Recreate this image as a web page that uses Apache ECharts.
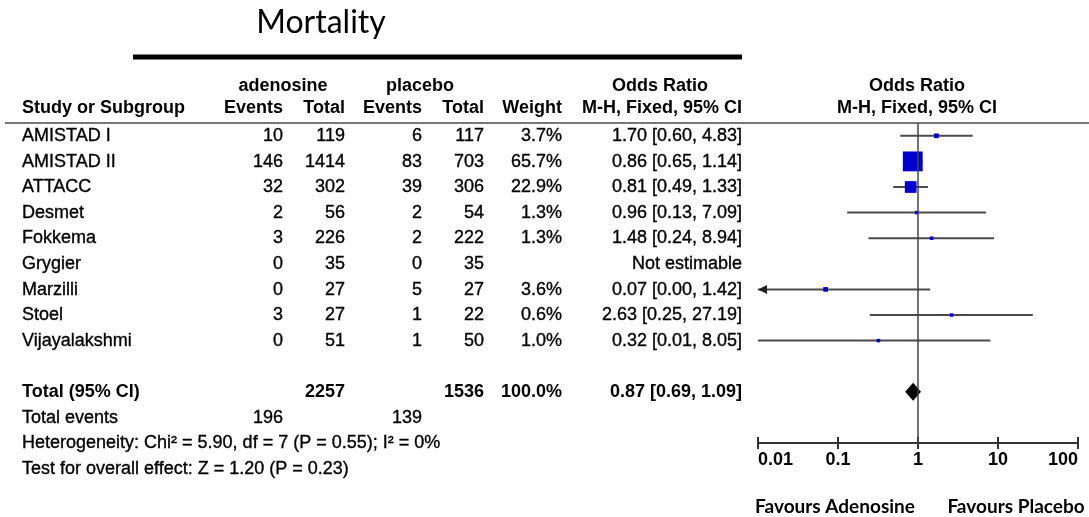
<!DOCTYPE html>
<html><head><meta charset="utf-8">
<script src="https://cdn.jsdelivr.net/npm/echarts/dist/echarts.min.js"></script>
<style>html,body{margin:0;padding:0;background:#fff}#c{width:1089px;height:517px}</style>
</head><body><div id="c"></div>
<script>
// ---- data ----
const studies = ['AMISTAD I','AMISTAD II','ATTACC','Desmet','Fokkema','Grygier','Marzilli','Stoel','Vijayalakshmi'];
const adenEvents = [10,146,32,2,3,0,0,3,0];
const adenTotal = [119,1414,302,56,226,35,27,27,51];
const placEvents = [6,83,39,2,2,0,5,1,1];
const placTotal = [117,703,306,54,222,35,27,22,50];
const weights = [3.7,65.7,22.9,1.3,1.3,null,3.6,0.6,1.0];
const orVal = [1.70,0.86,0.81,0.96,1.48,null,0.07,2.63,0.32];
const orLo  = [0.60,0.65,0.49,0.13,0.24,null,0.00,0.25,0.01];
const orHi  = [4.83,1.14,1.33,7.09,8.94,null,1.42,27.19,8.05];
const totalN = [2257,1536];
const totalWeight = 100.0;
const totalEvents = [196,139];
const pooled = [0.87,0.69,1.09];
const xTicks = [0.01,0.1,1,10,100];
const heterogeneityText = 'Heterogeneity: Chi\u00b2 = 5.90, df = 7 (P = 0.55); I\u00b2 = 0%';
const effectText = 'Test for overall effect: Z = 1.20 (P = 0.23)';

// ---- layout ----
const FONT = '"Liberation Sans", Arial, sans-serif';
const CAL = 'Lato, "Open Sans", sans-serif';
const colX = [22, 283, 345, 422, 484, 562, 742];
const colAlign = ['left','right','right','right','right','right','right'];
const TOTAL_ROW = 10;

const fmtOR = (v,l,h) => v.toFixed(2)+' ['+l.toFixed(2)+', '+h.toFixed(2)+']';

const tableRows = [];
studies.forEach((s,i) => {
  tableRows.push({r:i, bold:false, cells:[s, adenEvents[i], adenTotal[i], placEvents[i], placTotal[i],
    weights[i]==null ? '' : weights[i].toFixed(1)+'%',
    orVal[i]==null ? 'Not estimable' : fmtOR(orVal[i],orLo[i],orHi[i])]});
});
tableRows.push({r:TOTAL_ROW, bold:true, cells:['Total (95% CI)','',totalN[0],'',totalN[1],totalWeight.toFixed(1)+'%',fmtOR(pooled[0],pooled[1],pooled[2])]});
tableRows.push({r:11, bold:false, cells:['Total events',totalEvents[0],'',totalEvents[1],'','','']});
tableRows.push({r:12, bold:false, cells:[heterogeneityText]});
tableRows.push({r:13, bold:false, cells:[effectText]});
tableRows.push({r:-1.1, bold:true, cells:['Study or Subgroup','Events','Total','Events','Total','Weight','M-H, Fixed, 95% CI']});
const groupHeaders = [{t:'adenosine',x:283,r:-1.95},{t:'placebo',x:420,r:-1.95},{t:'Odds Ratio',x:660,r:-1.95}];

const ciData = [], sqData = [];
studies.forEach((s,i) => {
  if (orVal[i]==null) return;
  ciData.push([orHi[i], i, orLo[i]]);
  sqData.push([orVal[i], i, weights[i]]);
});

const chart = echarts.init(document.getElementById('c'));
const XMIN = xTicks[0], XMAX = xTicks[xTicks.length-1];

chart.setOption({
  animation:false,
  backgroundColor:'#fff',
  grid:[
    {left:758, right:11, top:123, bottom:74, outerBoundsMode:'none', containLabel:false},
    {left:0, right:0, top:0, bottom:0, outerBoundsMode:'none', containLabel:false}
  ],
  xAxis:[
    {type:'log', logBase:10, min:XMIN, max:XMAX, gridIndex:0, position:'bottom',
     axisLine:{show:true, onZero:false, lineStyle:{color:'#333', width:2}},
     axisTick:{show:true, length:6, lineStyle:{color:'#333', width:2}},
     axisLabel:{show:true, color:'#000', fontFamily:FONT, fontWeight:'bold', fontSize:18, margin:8,
       alignMinLabel:'left', alignMaxLabel:'right',
       formatter:v => String(+(+v).toPrecision(2))},
     splitLine:{show:false}, minorTick:{show:false}},
    {type:'log', logBase:10, min:XMIN, max:XMAX, gridIndex:0, position:'bottom',
     axisLine:{show:false, onZero:false}, axisTick:{show:true, inside:true, length:6, lineStyle:{color:'#333', width:2}},
     axisLabel:{show:false}, splitLine:{show:false}},
    {type:'value', min:0, max:1089, gridIndex:1, show:false, axisLine:{onZero:false}}
  ],
  yAxis:[
    {type:'value', inverse:true, min:-0.5, max:12, gridIndex:0, show:false, axisLine:{onZero:false}},
    {type:'value', inverse:true, min:-5.3125, max:14.8828, gridIndex:1, show:false, axisLine:{onZero:false}}
  ],
  graphic:[
    {type:'text', x:321, y:23, style:{text:'Mortality', font:'32px '+CAL, fill:'#000', align:'center', verticalAlign:'middle'}},
    {type:'rect', shape:{x:133, y:54.5, width:609, height:5}, style:{fill:'#000'}},
    {type:'line', shape:{x1:5, y1:123, x2:1089, y2:123}, style:{stroke:'#777', lineWidth:2}},
    {type:'text', x:917, y:86, style:{text:'Odds Ratio', font:'bold 18px '+FONT, fill:'#000', align:'center', verticalAlign:'middle'}},
    {type:'text', x:917, y:108, style:{text:'M-H, Fixed, 95% CI', font:'bold 18px '+FONT, fill:'#000', align:'center', verticalAlign:'middle'}},
    {type:'text', x:835, y:507, style:{text:'Favours Adenosine', font:'bold 19px '+CAL, fill:'#000', align:'center', verticalAlign:'middle'}},
    {type:'text', x:1016, y:507, style:{text:'Favours Placebo', font:'bold 19px '+CAL, fill:'#000', align:'center', verticalAlign:'middle'}}
  ],
  series:[
    {type:'custom', name:'ci', xAxisIndex:0, yAxisIndex:0, data:ciData, encode:{x:0, y:1}, clip:false, z:2,
     renderItem:(params, api) => {
       const hi = api.value(0), r = api.value(1), lo = api.value(2);
       const clipped = lo < XMIN;
       const p0 = api.coord([Math.max(lo, XMIN), r]);
       const p1 = api.coord([hi, r]);
       const children = [{type:'line', shape:{x1:p0[0], y1:p0[1], x2:p1[0], y2:p1[1]}, style:{stroke:'#4a4a4a', lineWidth:2}}];
       if (clipped) {
         children.push({type:'polygon', shape:{points:[[p0[0], p0[1]],[p0[0]+9, p0[1]-4.5],[p0[0]+9, p0[1]+4.5]]}, style:{fill:'#222'}});
       }
       return {type:'group', children};
     }},
    {type:'scatter', name:'or', xAxisIndex:0, yAxisIndex:0, data:sqData, symbol:'rect', z:3,
     symbolSize:v => Math.max(3.5, 2.45*Math.sqrt(v[2])),
     itemStyle:{color:'#0000CC', opacity:1}},
    {type:'custom', name:'pooled', xAxisIndex:0, yAxisIndex:0, data:[[pooled[0], TOTAL_ROW, pooled[1], pooled[2]]], encode:{x:0, y:1}, z:4, clip:false,
     renderItem:(params, api) => {
       const c = api.coord([api.value(0), api.value(1)]);
       const l = api.coord([api.value(2), api.value(1)]);
       const h = api.coord([api.value(3), api.value(1)]);
       return {type:'polygon', shape:{points:[[l[0],c[1]],[c[0],c[1]-9],[h[0],c[1]],[c[0],c[1]+9]]}, style:{fill:'#000'}};
     },
     markLine:{silent:true, symbol:'none', label:{show:false}, lineStyle:{color:'#444', width:1.5, type:'solid'}, data:[{xAxis:1}]}},
    {type:'custom', name:'table', xAxisIndex:2, yAxisIndex:1, clip:false, z:5,
     data:tableRows.map(t => [0, t.r]).concat(groupHeaders.map(g => [g.x, g.r])), encode:{x:0, y:1},
     renderItem:(params, api) => {
       const idx = params.dataIndex;
       if (idx >= tableRows.length) {
         const g = groupHeaders[idx - tableRows.length];
         const p = api.coord([g.x, g.r]);
         return {type:'text', x:p[0], y:p[1], style:{text:g.t, font:'bold 18px '+FONT, fill:'#000', align:'center', verticalAlign:'middle'}};
       }
       const row = tableRows[idx];
       const children = row.cells.map((t, j) => {
         const p = api.coord([colX[j], row.r]);
         const bold = row.bold && (j===0 || j===2 || j===4 || j===5 || j===6 || row.r < 0);
         return {type:'text', x:p[0], y:p[1], style:{text:String(t), font:(bold?'bold ':'')+'18px '+FONT, fill:'#000',
           stroke: bold ? null : '#000', lineWidth: bold ? 0 : 0.35, align:colAlign[j], verticalAlign:'middle'}};
       });
       return {type:'group', children};
     }}
  ]
});
</script></body></html>
